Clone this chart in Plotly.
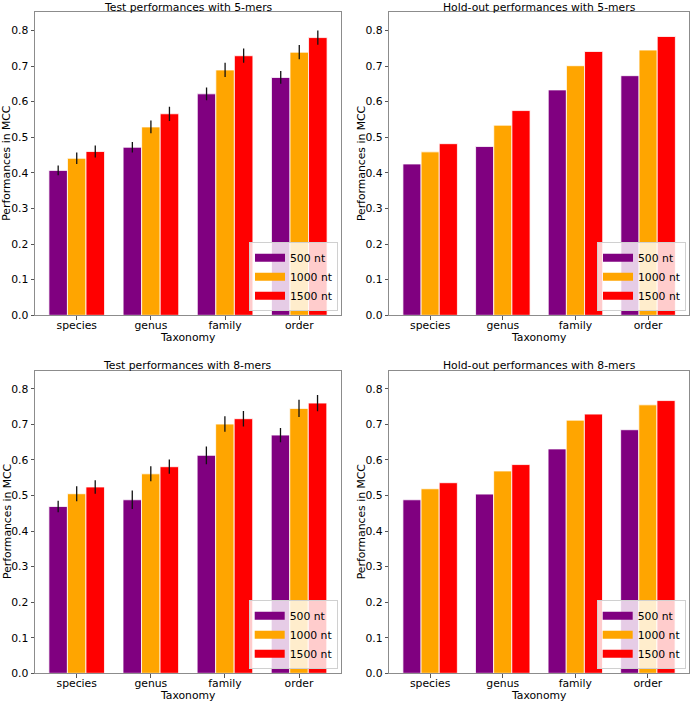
import plotly.graph_objects as go

categories = ["species", "genus", "family", "order"]
series_names = ["500 nt", "1000 nt", "1500 nt"]
series_colors = ["#800080", "#FFA500", "#FF0000"]

# Test performances with 5-mers
test5_500 = [0.407, 0.472, 0.622, 0.668]
test5_1000 = [0.441, 0.529, 0.689, 0.739]
test5_1500 = [0.460, 0.566, 0.729, 0.780]
test5_err_500 = [0.014, 0.015, 0.018, 0.018]
test5_err_1000 = [0.016, 0.018, 0.020, 0.020]
test5_err_1500 = [0.017, 0.020, 0.020, 0.020]

# Hold-out performances with 5-mers
hold5_500 = [0.425, 0.474, 0.633, 0.673]
hold5_1000 = [0.459, 0.534, 0.701, 0.745]
hold5_1500 = [0.482, 0.575, 0.741, 0.783]

# Test performances with 8-mers
test8_500 = [0.469, 0.488, 0.613, 0.670]
test8_1000 = [0.505, 0.561, 0.701, 0.745]
test8_1500 = [0.524, 0.581, 0.716, 0.760]
test8_err_500 = [0.016, 0.026, 0.025, 0.020]
test8_err_1000 = [0.021, 0.021, 0.022, 0.024]
test8_err_1500 = [0.019, 0.020, 0.022, 0.023]

# Hold-out performances with 8-mers
hold8_500 = [0.488, 0.504, 0.631, 0.685]
hold8_1000 = [0.519, 0.569, 0.712, 0.755]
hold8_1500 = [0.536, 0.587, 0.729, 0.767]

panel_titles = ["Test performances with 5-mers", "Hold-out performances with 5-mers",
                "Test performances with 8-mers", "Hold-out performances with 8-mers"]
y_ticks = [0.0, 0.1, 0.2, 0.3, 0.4, 0.5, 0.6, 0.7, 0.8]

panels = [
    ([test5_500, test5_1000, test5_1500], [test5_err_500, test5_err_1000, test5_err_1500]),
    ([hold5_500, hold5_1000, hold5_1500], None),
    ([test8_500, test8_1000, test8_1500], [test8_err_500, test8_err_1000, test8_err_1500]),
    ([hold8_500, hold8_1000, hold8_1500], None),
]

W, H = 696, 702
FONT = "DejaVu Sans"
TXT = "#000000"
FS = 10.8

# panel pixel boxes (left, right, top, bottom)
boxes = [
    (35.0, 341.0, 12.3, 315.3),
    (389.3, 689.0, 12.3, 315.3),
    (35.0, 340.7, 370.7, 673.3),
    (389.3, 688.7, 370.7, 673.3),
]

fig = go.Figure()
layout = dict(
    width=W, height=H,
    margin=dict(l=0, r=0, t=0, b=0, autoexpand=False),
    paper_bgcolor="white", plot_bgcolor="white",
    barmode="group", bargap=0.25, bargroupgap=0.0,
    font=dict(family=FONT, size=FS, color=TXT),
    annotations=[],
)

for i, (vals, errs) in enumerate(panels):
    n = i + 1
    xa = "x" if n == 1 else f"x{n}"
    ya = "y" if n == 1 else f"y{n}"
    leg = "legend" if n == 1 else f"legend{n}"
    for s in range(3):
        bar = dict(
            x=categories, y=vals[s], name=series_names[s],
            marker=dict(color=series_colors[s], line=dict(color="white", width=0.8)),
            xaxis=xa, yaxis=ya, showlegend=False, offsetgroup=str(s),
            hoverinfo="x+y",
        )
        if errs is not None:
            bar["error_y"] = dict(type="data", array=errs[s], visible=True,
                                  color="#111111", thickness=1.3, width=0)
        fig.add_trace(go.Bar(**bar))
    for s in range(3):
        fig.add_trace(go.Scatter(
            x=[None], y=[None], mode="lines", name=series_names[s],
            line=dict(color=series_colors[s], width=8),
            xaxis=xa, yaxis=ya, legend=leg, showlegend=True, hoverinfo="skip",
        ))

    l, r, t, b = boxes[i]
    xdom = [l / W, r / W]
    ydom = [(H - b) / H, (H - t) / H]
    axkey = "xaxis" if n == 1 else f"xaxis{n}"
    aykey = "yaxis" if n == 1 else f"yaxis{n}"
    layout[axkey] = dict(
        domain=xdom, anchor=ya, type="category", automargin=False,
        categoryorder="array", categoryarray=categories,
        range=[-0.5625, 3.5625],
        showline=True, linecolor="#8c8c8c", linewidth=1, mirror=True,
        ticks="outside", ticklen=3.5, tickcolor="#555555", tickwidth=0.8,
        ticklabelstandoff=-4,
        showgrid=False, zeroline=False,
        tickfont=dict(family=FONT, size=FS, color=TXT),
    )
    layout[aykey] = dict(
        domain=ydom, anchor=xa, range=[0, 0.851], automargin=False,
        tickvals=y_ticks, tickformat=".1f",
        showline=True, linecolor="#8c8c8c", linewidth=1, mirror=True,
        ticks="outside", ticklen=3.5, tickcolor="#555555", tickwidth=0.8,
        showgrid=False, zeroline=False,
        tickfont=dict(family=FONT, size=FS, color=TXT),
    )
    layout[leg] = dict(
        x=(r - 3) / W, y=(H - b + 4) / H, xanchor="right", yanchor="bottom",
        bgcolor="rgba(255,255,255,0.8)", bordercolor="#d0d0d0", borderwidth=1,
        font=dict(family=FONT, size=FS, color=TXT),
        itemwidth=30, tracegroupgap=0,
    )
    cx = (l + r) / 2 / W
    # title
    layout["annotations"].append(dict(
        text=panel_titles[i], xref="paper", yref="paper",
        x=cx, y=(H - (t - 5)) / H, xanchor="center", yanchor="middle",
        showarrow=False, font=dict(family=FONT, size=FS, color=TXT),
    ))
    # x title
    layout["annotations"].append(dict(
        text="Taxonomy", xref="paper", yref="paper",
        x=cx, y=(H - (b + 22)) / H, xanchor="center", yanchor="middle",
        showarrow=False, font=dict(family=FONT, size=FS, color=TXT),
    ))
    # y title
    layout["annotations"].append(dict(
        text="Performances in MCC", xref="paper", yref="paper",
        x=(l - 28) / W, y=(H - (t + b) / 2) / H, xanchor="center", yanchor="middle",
        textangle=-90, showarrow=False, font=dict(family=FONT, size=FS, color=TXT),
    ))

fig.update_layout(**layout)
fig.write_html(
    "out.html",
    config={"displayModeBar": False},
    post_script="document.body.style.margin='0';document.body.style.overflow='hidden';",
)
